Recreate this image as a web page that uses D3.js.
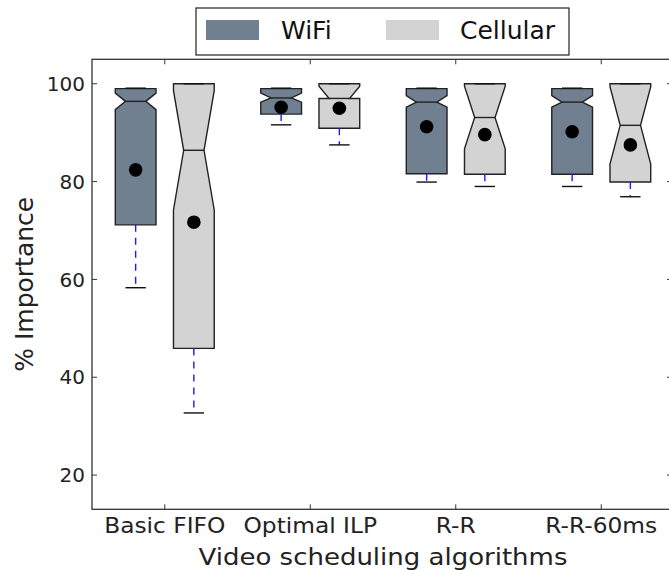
<!DOCTYPE html>
<html><head><meta charset="utf-8">
<script src="https://cdn.jsdelivr.net/npm/d3@7"></script>
<style>body{margin:0;background:#fff}svg{display:block;font-family:"DejaVu Sans",sans-serif}</style>
</head><body><svg id="c" width="669" height="570"></svg>
<script>
const categories = ["Basic FIFO", "Optimal ILP", "R-R", "R-R-60ms"];
const seriesNames = ["WiFi", "Cellular"];
const seriesColors = ["#708090", "#d3d3d3"];
const yTicks = [20, 40, 60, 80, 100];

// WiFi box statistics
const wifiWhiskerLow  = [58.3, 91.6, 79.9, 79.0];
const wifiQ1          = [71.15, 93.8, 81.6, 81.5];
const wifiNotchLow    = [94.7, 96.25, 95.2, 95.2];
const wifiMedian      = [96.4, 97.1, 96.25, 96.25];
const wifiNotchHigh   = [98.1, 98.1, 97.6, 97.6];
const wifiQ3          = [99.0, 99.0, 99.0, 99.0];
const wifiWhiskerHigh = [99.1, 99.1, 99.1, 99.1];
const wifiMean        = [82.4, 95.2, 91.2, 90.2];

// Cellular box statistics
const cellWhiskerLow  = [32.7, 87.5, 79.0, 76.9];
const cellQ1          = [45.9, 90.9, 81.5, 79.9];
const cellNotchLow    = [74.2, 97.0, 86.7, 83.6];
const cellMedian      = [86.4, 97.0, 93.1, 91.5];
const cellNotchHigh   = [98.6, 99.5, 99.5, 99.4];
const cellQ3          = [100, 100, 100, 100];
const cellWhiskerHigh = [100, 100, 100, 100];
const cellMean        = [71.7, 95.0, 89.6, 87.5];

const M = {left: 92, right: 674, top: 59.3, bottom: 509.3};
const svg = d3.select("#c");
const x = d3.scaleLinear().domain([0.5, 4.5]).range([M.left, M.right]);
const y = d3.scaleLinear().domain([13, 105]).range([M.bottom, M.top]);

const boxW = 0.28, offset = 0.2;
function buildSeries(si, lo, q1, nlo, med, nhi, q3, hi, mean) {
  return categories.map((c, i) => ({c, i, si, lo: lo[i], q1: q1[i], nlo: nlo[i], med: med[i], nhi: nhi[i], q3: q3[i], hi: hi[i], mean: mean[i]}));
}
const boxes = buildSeries(0, wifiWhiskerLow, wifiQ1, wifiNotchLow, wifiMedian, wifiNotchHigh, wifiQ3, wifiWhiskerHigh, wifiMean)
  .concat(buildSeries(1, cellWhiskerLow, cellQ1, cellNotchLow, cellMedian, cellNotchHigh, cellQ3, cellWhiskerHigh, cellMean));
boxes.forEach(b => { b.pos = (b.i + 1) + (b.si === 0 ? -offset : offset); });

const g = svg.append("g");
// boxes
g.selectAll("path.box").data(boxes).join("path")
  .attr("fill", d => seriesColors[d.si])
  .attr("stroke", "#222").attr("stroke-width", 1.4).attr("stroke-linejoin", "miter")
  .attr("d", d => {
    const L = x(d.pos - boxW / 2), R = x(d.pos + boxW / 2);
    const cL = x(d.pos - boxW / 4), cR = x(d.pos + boxW / 4);
    const pts = [[L, y(d.q1)], [L, y(d.nlo)], [cL, y(d.med)], [L, y(d.nhi)], [L, y(d.q3)],
                 [R, y(d.q3)], [R, y(d.nhi)], [cR, y(d.med)], [R, y(d.nlo)], [R, y(d.q1)]];
    return "M" + pts.map(p => p.join(",")).join("L") + "Z";
  });
// medians
g.selectAll("line.med").data(boxes).join("line")
  .attr("x1", d => x(d.pos - boxW / 4)).attr("x2", d => x(d.pos + boxW / 4))
  .attr("y1", d => y(d.med)).attr("y2", d => y(d.med))
  .attr("stroke", "#222").attr("stroke-width", 1.4);
// whiskers
const wh = [];
boxes.forEach(b => { wh.push({pos: b.pos, a: b.q1, b: b.lo}); wh.push({pos: b.pos, a: b.q3, b: b.hi}); });
g.selectAll("line.wh").data(wh).join("line")
  .attr("x1", d => x(d.pos)).attr("x2", d => x(d.pos))
  .attr("y1", d => y(d.a)).attr("y2", d => y(d.b))
  .attr("stroke", "#1a1aff").attr("stroke-width", 1.4).attr("stroke-dasharray", "7,6");
// caps
const caps = [];
boxes.forEach(b => { caps.push({pos: b.pos, v: b.lo}); caps.push({pos: b.pos, v: b.hi}); });
g.selectAll("line.cap").data(caps).join("line")
  .attr("x1", d => x(d.pos - boxW / 4)).attr("x2", d => x(d.pos + boxW / 4))
  .attr("y1", d => y(d.v)).attr("y2", d => y(d.v))
  .attr("stroke", "#111").attr("stroke-width", 1.4);
// means
g.selectAll("circle.mean").data(boxes).join("circle")
  .attr("cx", d => x(d.pos)).attr("cy", d => y(d.mean)).attr("r", 6.8).attr("fill", "#000");

// axes frame
const ax = svg.append("g");
ax.append("rect").attr("x", M.left).attr("y", M.top).attr("width", M.right - M.left).attr("height", M.bottom - M.top)
  .attr("fill", "none").attr("stroke", "#333").attr("stroke-width", 1.3);
const tl = 5;
yTicks.forEach(t => {
  ax.append("line").attr("x1", M.left).attr("x2", M.left + tl).attr("y1", y(t)).attr("y2", y(t)).attr("stroke", "#333");
  ax.append("line").attr("x1", M.right).attr("x2", M.right - tl - 2).attr("y1", y(t)).attr("y2", y(t)).attr("stroke", "#333");
  ax.append("text").attr("x", M.left - 7).attr("y", y(t)).attr("dy", "0.36em").attr("text-anchor", "end")
    .attr("font-size", 20).attr("fill", "#222").text(t);
});
categories.forEach((c, i) => {
  const px = x(i + 1);
  ax.append("line").attr("x1", px).attr("x2", px).attr("y1", M.bottom).attr("y2", M.bottom - tl).attr("stroke", "#333");
  ax.append("line").attr("x1", px).attr("x2", px).attr("y1", M.top).attr("y2", M.top + tl).attr("stroke", "#333");
  ax.append("text").attr("transform", `translate(${px},533) scale(1.11,1)`).attr("text-anchor", "middle")
    .attr("font-size", 21).attr("fill", "#222").text(c);
});
ax.append("text").attr("transform", `translate(${(M.left + M.right) / 2},565) scale(1.13,1)`).attr("text-anchor", "middle")
  .attr("font-size", 23).attr("fill", "#222").text("Video scheduling algorithms");
ax.append("text").attr("transform", `translate(33,${(M.top + M.bottom) / 2}) rotate(-90)`).attr("text-anchor", "middle")
  .attr("font-size", 25).attr("fill", "#222").text("% Importance");

// legend
const lg = svg.append("g");
lg.append("rect").attr("x", 196).attr("y", 8).attr("width", 373).attr("height", 47)
  .attr("fill", "#fff").attr("stroke", "#222").attr("stroke-width", 1.2);
const legX = [206, 386], legTX = [281, 460];
seriesNames.forEach((s, i) => {
  lg.append("rect").attr("x", legX[i]).attr("y", 20).attr("width", 53).attr("height", 20).attr("fill", seriesColors[i]);
  lg.append("text").attr("x", legTX[i]).attr("y", 39).attr("font-size", 25).attr("fill", "#111").text(s);
});
</script></body></html>
